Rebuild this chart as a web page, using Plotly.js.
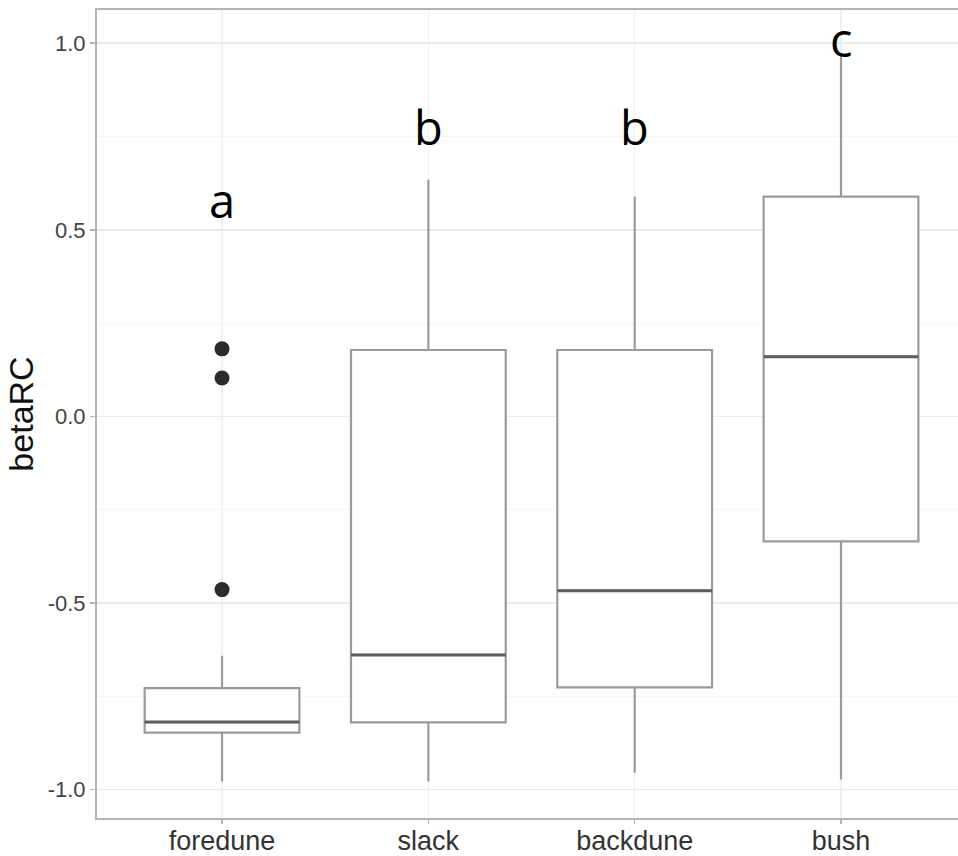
<!DOCTYPE html>
<html>
<head>
<meta charset="utf-8">
<script src="https://cdn.plot.ly/plotly-3.0.1.min.js"></script>
<style>html,body{margin:0;padding:0;background:#fff;}#chart{width:958px;height:856px;}</style>
</head>
<body>
<div id="chart"></div>
<script>
// Categories and box statistics
const categories   = ['foredune', 'slack', 'backdune', 'bush'];
const lowerWhisker = [-0.978, -0.978, -0.955, -0.973];
const q1Values     = [-0.847, -0.820, -0.726, -0.335];
const medianValues = [-0.819, -0.639, -0.467, 0.160];
const q3Values     = [-0.728, 0.178, 0.178, 0.589];
const upperWhisker = [-0.641, 0.634, 0.589, 0.974];

// Outliers
const outlierCategory = ['foredune', 'foredune', 'foredune'];
const outlierValues   = [0.181, 0.103, -0.464];

// Significance letters
const sigLetters = ['a', 'b', 'b', 'c'];
const sigY       = [0.58, 0.775, 0.775, 1.01];

const yTickVals  = [-1.0, -0.5, 0.0, 0.5, 1.0];
const yTickText  = ['-1.0', '-0.5', '0.0', '0.5', '1.0'];

const idx = categories.map((c, i) => i);
const BOX_W = 0.75;

const boxTrace = {
  type: 'box',
  x: idx,
  q1: q1Values,
  median: medianValues,
  q3: q3Values,
  lowerfence: lowerWhisker,
  upperfence: upperWhisker,
  width: BOX_W,
  whiskerwidth: 0,
  boxpoints: false,
  fillcolor: '#ffffff',
  line: {color: '#9b9b9b', width: 2.2},
  hoverinfo: 'skip',
  showlegend: false
};

// Darker median lines drawn over the boxes
const medX = [], medY = [];
idx.forEach(i => {
  medX.push(i - BOX_W / 2, i + BOX_W / 2, null);
  medY.push(medianValues[i], medianValues[i], null);
});
const medianTrace = {
  type: 'scatter', mode: 'lines',
  x: medX, y: medY,
  line: {color: '#5e5e5e', width: 3},
  hoverinfo: 'skip', showlegend: false
};

const outlierTrace = {
  type: 'scatter', mode: 'markers',
  x: outlierCategory.map(c => categories.indexOf(c)),
  y: outlierValues,
  marker: {color: '#2b2b2b', size: 15},
  hoverinfo: 'skip', showlegend: false
};

const annotations = sigLetters.map((t, i) => ({
  x: i, y: sigY[i], xref: 'x', yref: 'y',
  text: t, showarrow: false,
  xanchor: 'center', yanchor: 'middle',
  font: {family: 'Open Sans, sans-serif', size: 47, color: '#000000'}
}));

const layout = {
  width: 958, height: 856,
  margin: {l: 97, r: 0, t: 10, b: 38, pad: 0},
  paper_bgcolor: '#ffffff', plot_bgcolor: '#ffffff',
  showlegend: false,
  xaxis: {
    type: 'linear',
    range: [-0.606, 3.567],
    tickvals: idx, ticktext: categories,
    showgrid: true, gridcolor: '#f0f0f0', gridwidth: 1.5,
    zeroline: false,
    showline: true, linecolor: '#b4b4b4', linewidth: 2, mirror: true,
    ticks: 'outside', ticklen: 4, tickcolor: '#b4b4b4', tickwidth: 1.5,
    ticklabelstandoff: -6,
    tickfont: {family: 'Liberation Sans, Arial, sans-serif', size: 27, color: '#333333'}
  },
  yaxis: {
    range: [-1.076, 1.089],
    tickvals: yTickVals, ticktext: yTickText,
    showgrid: true, gridcolor: '#ebebeb', gridwidth: 1.5,
    minor: {dtick: 0.25, tick0: 0, showgrid: true, gridcolor: '#f6f6f6', gridwidth: 1, ticks: ''},
    zeroline: false,
    showline: true, linecolor: '#b4b4b4', linewidth: 2,
    ticks: 'outside', ticklen: 5, tickcolor: '#b4b4b4', tickwidth: 1.5,
    tickfont: {family: 'Liberation Sans, Arial, sans-serif', size: 22, color: '#444444'},
    title: {text: 'betaRC', standoff: 4,
            font: {family: 'Liberation Sans, Arial, sans-serif', size: 34, color: '#111111'}}
  },
  annotations: annotations
};

Plotly.newPlot('chart', [boxTrace, medianTrace, outlierTrace], layout, {displayModeBar: false, staticPlot: true});
</script>
</body>
</html>
